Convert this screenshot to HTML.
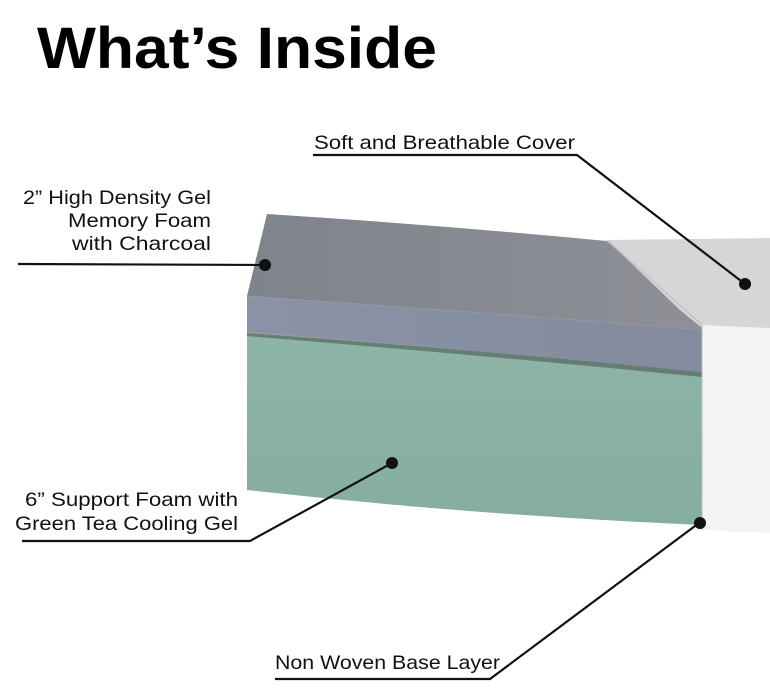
<!DOCTYPE html>
<html><head><meta charset="utf-8"><style>
html,body{margin:0;padding:0;background:#fff;}
svg{display:block;}
text{font-family:"Liberation Sans",sans-serif;fill:#111;}
</style></head><body>
<svg width="770" height="698" viewBox="0 0 770 698" xmlns="http://www.w3.org/2000/svg">
<defs>
<linearGradient id="gtop" x1="0" x2="1" y1="0" y2="0"><stop offset="0" stop-color="#7f838b"/><stop offset="1" stop-color="#8e9096"/></linearGradient>
<linearGradient id="gfront" x1="0" x2="1"><stop offset="0" stop-color="#8a93a6"/><stop offset="1" stop-color="#838b9c"/></linearGradient>
<linearGradient id="green" x1="0" x2="0" y1="0" y2="1"><stop offset="0" stop-color="#8db4a6"/><stop offset="1" stop-color="#86ae9f"/></linearGradient>
</defs>
<text x="37" y="68" font-size="58" font-weight="bold" textLength="400" lengthAdjust="spacingAndGlyphs" style="fill:#000">What’s Inside</text>

<path d="M247,333 Q480,350 702,372 L702,525 Q470,515 247,490 Z" fill="url(#green)"/>
<path d="M247,330 Q480,348 702,370 L702,377 Q480,355 247,336 Z" fill="#3d4a46" opacity="0.5"/>
<path d="M267,214 Q440,225 607,241 L702,325 L702,330 Q480,312 247,296 Z" fill="url(#gtop)"/>
<path d="M247,296 Q480,312 702,330 L702,372 Q480,350 247,332 Z" fill="url(#gfront)"/>
<path d="M607,240 L770,238 L770,330 L702,328 L680,310 Z" fill="#d6d6d6"/>
<path d="M702,325 L770,328 L770,533 L702,530 Z" fill="#f3f3f3"/>
<path d="M607,240 L702,325 L702,530" fill="none" stroke="#bbb" stroke-width="1"/>

<g stroke="#111" stroke-width="2.2" fill="none">
<polyline points="18,264 265,265"/>
<polyline points="313,155 577,155 745,284"/>
<polyline points="22,541 250,541 392,463"/>
<polyline points="275,679 490,679 699,523"/>
</g>
<g fill="#111">
<circle cx="265" cy="265" r="6"/>
<circle cx="745" cy="284" r="6"/>
<circle cx="392" cy="463" r="6"/>
<circle cx="700" cy="523" r="6"/>
</g>

<g font-size="19.5">
<text x="314" y="149" textLength="261" lengthAdjust="spacingAndGlyphs">Soft and Breathable Cover</text>
<text x="23" y="204" textLength="188" lengthAdjust="spacingAndGlyphs">2” High Density Gel</text>
<text x="68" y="227" textLength="143" lengthAdjust="spacingAndGlyphs">Memory Foam</text>
<text x="72" y="250" textLength="139" lengthAdjust="spacingAndGlyphs">with Charcoal</text>
<text x="25" y="506" textLength="213" lengthAdjust="spacingAndGlyphs">6” Support Foam with</text>
<text x="15" y="530" textLength="223" lengthAdjust="spacingAndGlyphs">Green Tea Cooling Gel</text>
<text x="275" y="669" textLength="225" lengthAdjust="spacingAndGlyphs">Non Woven Base Layer</text>
</g>
</svg>
</body></html>
